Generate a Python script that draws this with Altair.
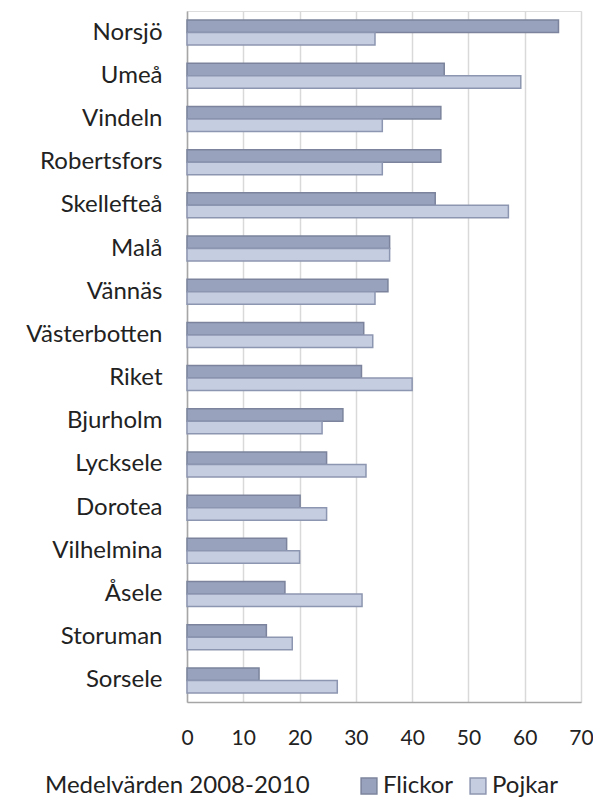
import altair as alt
import pandas as pd

kommuner = ["Norsjö", "Umeå", "Vindeln", "Robertsfors", "Skellefteå", "Malå", "Vännäs",
            "Västerbotten", "Riket", "Bjurholm", "Lycksele", "Dorotea", "Vilhelmina",
            "Åsele", "Storuman", "Sorsele"]
flickor = [66.0, 45.7, 45.1, 45.1, 44.1, 36.0, 35.7, 31.4, 31.0, 27.7, 24.8, 20.1, 17.7, 17.4, 14.1, 12.8]
pojkar = [33.4, 59.3, 34.7, 34.7, 57.1, 36.0, 33.4, 33.0, 40.0, 24.0, 31.8, 24.8, 20.0, 31.1, 18.7, 26.7]
series = ["Flickor", "Pojkar"]
x_ticks = [0, 10, 20, 30, 40, 50, 60, 70]

rows = []
for k, f, p in zip(kommuner, flickor, pojkar):
    rows.append({"Kommun": k, "Kön": "Flickor", "Värde": f})
    rows.append({"Kommun": k, "Kön": "Pojkar", "Värde": p})
df = pd.DataFrame(rows)

FONT = "Lato"
TXT = "#222222"

chart = alt.Chart(df).mark_bar(strokeWidth=1.5).encode(
    x=alt.X("Värde:Q",
            scale=alt.Scale(domain=[0, 70], nice=False),
            axis=alt.Axis(values=x_ticks, title=None, grid=True, gridColor="#d9d9d9",
                          gridWidth=1.5, domainColor="#a6a6a6", domainWidth=1.5,
                          ticks=False, labelFontSize=21, labelFont=FONT, labelFlush=False,
                          labelColor=TXT, labelPadding=25)),
    y=alt.Y("Kommun:N", sort=kommuner,
            scale=alt.Scale(paddingInner=0.42, paddingOuter=0.21),
            axis=alt.Axis(title=None, ticks=False, domainColor="#a6a6a6", domainWidth=1.5,
                          labelFontSize=24, labelFont=FONT, labelColor=TXT,
                          labelPadding=25)),
    yOffset=alt.YOffset("Kön:N", sort=series, scale=alt.Scale(paddingInner=0, paddingOuter=0)),
    fill=alt.Fill("Kön:N", sort=series,
                  scale=alt.Scale(domain=series, range=["#98a2bc", "#c5cde0"]),
                  legend=alt.Legend(title="Medelvärden 2008-2010", orient="none",
                                    legendX=-142, legendY=763, direction="horizontal",
                                    titleOrient="left", titlePadding=47, titleLimit=400,
                                    titleFontSize=24, titleFont=FONT, titleFontWeight="normal",
                                    titleColor=TXT, labelFontSize=24, labelFont=FONT,
                                    labelColor=TXT, symbolType="square", symbolSize=250,
                                    symbolStrokeWidth=1.5, columnPadding=12,
                                    labelOffset=2)),
    stroke=alt.Stroke("Kön:N", sort=series,
                      scale=alt.Scale(domain=series, range=["#7b849c", "#8d96b0"]),
                      legend=alt.Legend(title="Medelvärden 2008-2010")),
).properties(
    width=394,
    height=691,
    autosize=alt.AutoSizeParams(type="none"),
    padding={"left": 179, "top": 3, "right": 12, "bottom": 96},
).configure_view(stroke="#d9d9d9", strokeWidth=1.5).configure(background="white")

chart.save("out.html", embed_options={"renderer": "svg", "actions": False})
